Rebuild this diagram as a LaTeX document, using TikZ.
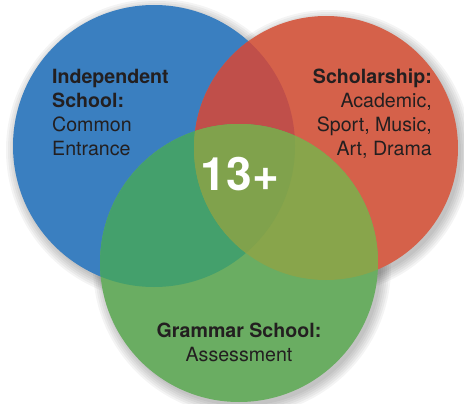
\documentclass[tikz,border=0pt]{standalone}
\usepackage{fontspec}
\setmainfont{TeX Gyre Heros}
\usepackage{xcolor}
\usetikzlibrary{calc}

\definecolor{indblue}{HTML}{3A7FC0}
\definecolor{schred}{HTML}{D5614A}
\definecolor{gragreen}{HTML}{6AAD62}
\definecolor{indsch}{HTML}{C04F4A}
\definecolor{indgra}{HTML}{44A06C}
\definecolor{schgra}{HTML}{88A54B}
\definecolor{allthree}{HTML}{80A24C}
\definecolor{labeltext}{HTML}{231F20}

\begin{document}
\begin{tikzpicture}[x=1pt, y=-1pt,
  label/.style={inner sep=0pt, text=labeltext, font=\fontsize{19.6}{24}\selectfont},
  centre/.style={inner sep=0pt, font=\fontsize{46}{46}\selectfont\bfseries},
  shadowring/.style={fill=black, opacity=0.045}]

  \useasboundingbox (0,0) rectangle (464,404);

  % Centres
  \coordinate (ind) at (154,146);
  \coordinate (sch) at (326,148);
  \coordinate (gra) at (239,263);

  % Shadows
  \foreach \s in {0,2,...,10} {
    \fill[shadowring] ($(ind)+(3,4)$) circle (141pt+\s pt);
    \fill[shadowring] ($(sch)+(3,4)$) circle (132pt+\s pt);
    \fill[shadowring] ($(gra)+(3,4)$) circle (139pt+\s pt);
  }

  % Circles
  \fill[indblue] (ind) circle (141pt);
  \fill[schred] (sch) circle (132pt);
  \fill[gragreen] (gra) circle (139pt);

  % Overlaps
  \begin{scope}
    \clip (ind) circle (141pt);
    \fill[indsch] (sch) circle (132pt);
    \fill[indgra] (gra) circle (139pt);
  \end{scope}
  \begin{scope}
    \clip (sch) circle (132pt);
    \fill[schgra] (gra) circle (139pt);
  \end{scope}
  \begin{scope}
    \clip (ind) circle (141pt);
    \clip (sch) circle (132pt);
    \fill[allthree] (gra) circle (139pt);
  \end{scope}

  % Labels
  \node[label, anchor=north west, align=left] (indlabel) at (52,69)
    {\textbf{Independent}\\\textbf{School:}\\Common\\Entrance};
  \node[label, anchor=north east, align=right] (schlabel) at (432,69)
    {\textbf{Scholarship:}\\Academic,\\Sport, Music,\\Art, Drama};
  \node[label, anchor=north, align=center] (gralabel) at (239,323)
    {\textbf{Grammar School:}\\Assessment};

  \node[centre, anchor=base, text=white] (age) at (240,190) {13+};

\end{tikzpicture}
\end{document}
